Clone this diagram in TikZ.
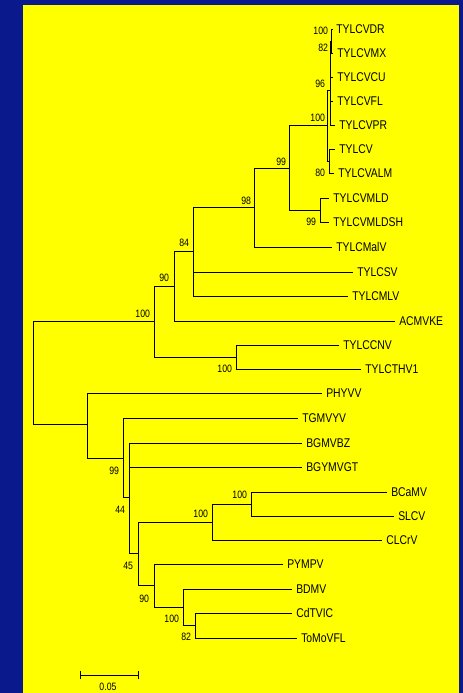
\documentclass[tikz,border=0pt]{standalone}
\usepackage{fontspec}
\setmainfont{Liberation Sans}[FakeStretch=0.82]
\definecolor{slideblue}{RGB}{10,26,140}
\definecolor{slideyellow}{RGB}{255,255,0}
\tikzset{
  leaf/.style={anchor=west, inner xsep=3pt, inner ysep=0pt, font=\fontsize{9.5}{10}\selectfont},
  boot/.style={anchor=east, inner sep=0.5pt, font=\fontsize{8}{8}\selectfont},
  branch/.style={line width=0.7pt, black},
}
\begin{document}
\begin{tikzpicture}[x=0.75pt, y=-0.75pt]
    % Slide background
    \useasboundingbox (0,0) rectangle (463,693);
    \fill[slideblue] (0,0) rectangle (463,693);
    \fill[slideyellow] (23,5) rectangle (459,693);

    % Taxa
    \node[leaf] (tylcvdr) at (332,29) {TYLCVDR};
    \node[leaf] (tylcvmx) at (333,53) {TYLCVMX};
    \node[leaf] (tylcvcu) at (333,77) {TYLCVCU};
    \node[leaf] (tylcvfl) at (333,101) {TYLCVFL};
    \node[leaf] (tylcvpr) at (335,125) {TYLCVPR};
    \node[leaf] (tylcv) at (335,149) {TYLCV};
    \node[leaf] (tylcvalm) at (334,173) {TYLCVALM};
    \node[leaf] (tylcvmld) at (329,198) {TYLCVMLD};
    \node[leaf] (tylcvmldsh) at (329,222) {TYLCVMLDSH};
    \node[leaf] (tylcmalv) at (332,247) {TYLCMalV};
    \node[leaf] (tylcsv) at (353,272) {TYLCSV};
    \node[leaf] (tylcmlv) at (348,296) {TYLCMLV};
    \node[leaf] (acmvke) at (395,321) {ACMVKE};
    \node[leaf] (tylccnv) at (339,345) {TYLCCNV};
    \node[leaf] (tylcthv) at (361,369) {TYLCTHV1};
    \node[leaf] (phyvv) at (322,393) {PHYVV};
    \node[leaf] (tgmvyv) at (298,418) {TGMVYV};
    \node[leaf] (bgmvbz) at (302,443) {BGMVBZ};
    \node[leaf] (bgymvgt) at (302,467) {BGYMVGT};
    \node[leaf] (bcamv) at (387,492) {BCaMV};
    \node[leaf] (slcv) at (394,516) {SLCV};
    \node[leaf] (clcrv) at (382,540) {CLCrV};
    \node[leaf] (pympv) at (283,564) {PYMPV};
    \node[leaf] (bdmv) at (292,589) {BDMV};
    \node[leaf] (cdtvic) at (292,613) {CdTVIC};
    \node[leaf] (tomovfl) at (297,638) {ToMoVFL};

    % Internal nodes
    \coordinate (root) at (33,371.5);
    \coordinate (nA) at (154,321);
    \coordinate (nB) at (174,286);
    \coordinate (nC) at (193,251);
    \coordinate (nD) at (254,207);
    \coordinate (nE) at (289,168);
    \coordinate (nF) at (327,125);
    \coordinate (nG) at (330,90);
    \coordinate (nH) at (330,46);
    \coordinate (nI) at (331.5,41);
    \coordinate (nW) at (329,161);
    \coordinate (nV) at (320,210);
    \coordinate (nU) at (236,357);
    \coordinate (nL) at (87,424);
    \coordinate (nM) at (123,458);
    \coordinate (nN) at (129,497);
    \coordinate (nO) at (138,553);
    \coordinate (nP) at (212,522);
    \coordinate (nQ) at (251,504);
    \coordinate (nR) at (154,585);
    \coordinate (nS) at (183,607);
    \coordinate (nT) at (195,625);

    % Branches
    \draw[branch] (root) |- (nA);
    \draw[branch] (root) |- (nL);
    \draw[branch] (nA) |- (nB);
    \draw[branch] (nA) |- (nU);
    \draw[branch] (nB) |- (nC);
    \draw[branch] (nB) |- (acmvke.west);
    \draw[branch] (nC) |- (nD);
    \draw[branch] (nC) |- (tylcsv.west);
    \draw[branch] (nC) |- (tylcmlv.west);
    \draw[branch] (nD) |- (nE);
    \draw[branch] (nD) |- (tylcmalv.west);
    \draw[branch] (nE) |- (nF);
    \draw[branch] (nE) |- (nV);
    \draw[branch] (nF) |- (nG);
    \draw[branch] (nF) |- (nW);
    \draw[branch] (nG) |- (nH);
    \draw[branch] (nG) |- (tylcvcu.west);
    \draw[branch] (nG) |- (tylcvfl.west);
    \draw[branch] (nG) |- (tylcvpr.west);
    \draw[branch] (nH) |- (nI);
    \draw[branch] (nI) |- (tylcvdr.west);
    \draw[branch] (nI) |- (tylcvmx.west);
    \draw[branch] (nW) |- (tylcv.west);
    \draw[branch] (nW) |- (tylcvalm.west);
    \draw[branch] (nV) |- (tylcvmld.west);
    \draw[branch] (nV) |- (tylcvmldsh.west);
    \draw[branch] (nU) |- (tylccnv.west);
    \draw[branch] (nU) |- (tylcthv.west);
    \draw[branch] (nL) |- (phyvv.west);
    \draw[branch] (nL) |- (nM);
    \draw[branch] (nM) |- (tgmvyv.west);
    \draw[branch] (nM) |- (nN);
    \draw[branch] (nN) |- (bgmvbz.west);
    \draw[branch] (nN) |- (bgymvgt.west);
    \draw[branch] (nN) |- (nO);
    \draw[branch] (nO) |- (nP);
    \draw[branch] (nO) |- (nR);
    \draw[branch] (nP) |- (nQ);
    \draw[branch] (nP) |- (clcrv.west);
    \draw[branch] (nQ) |- (bcamv.west);
    \draw[branch] (nQ) |- (slcv.west);
    \draw[branch] (nR) |- (pympv.west);
    \draw[branch] (nR) |- (nS);
    \draw[branch] (nS) |- (bdmv.west);
    \draw[branch] (nS) |- (nT);
    \draw[branch] (nT) |- (cdtvic.west);
    \draw[branch] (nT) |- (tomovfl.west);

    % Bootstrap values
    \node[boot] (bI) at (329,31) {100};
    \node[boot] (bH) at (329,48) {82};
    \node[boot] (bG) at (326,84) {96};
    \node[boot] (bF) at (326,118) {100};
    \node[boot] (bW) at (326,173) {80};
    \node[boot] (bE) at (287,162) {99};
    \node[boot] (bD) at (252,201) {98};
    \node[boot] (bV) at (317,222) {99};
    \node[boot] (bC) at (190,243) {84};
    \node[boot] (bB) at (170,278) {90};
    \node[boot] (bA) at (151,314) {100};
    \node[boot] (bU) at (233,369) {100};
    \node[boot] (bM) at (120,471) {99};
    \node[boot] (bN) at (126,510) {44};
    \node[boot] (bP) at (209,514) {100};
    \node[boot] (bQ) at (248,495) {100};
    \node[boot] (bO) at (134,566) {45};
    \node[boot] (bR) at (150,599) {90};
    \node[boot] (bS) at (180,619) {100};
    \node[boot] (bT) at (192,637) {82};

    % Scale bar
    \coordinate (sbl) at (80,675);
    \coordinate (sbr) at (138,675);
    \draw[branch] ([yshift=-3]sbl) -- ([yshift=3]sbl);
    \draw[branch] ([yshift=-3]sbr) -- ([yshift=3]sbr);
    \draw[branch] (sbl) -- (sbr);
    \node[boot, anchor=center] (sblabel) at (108,687) {0.05};
\end{tikzpicture}
\end{document}
